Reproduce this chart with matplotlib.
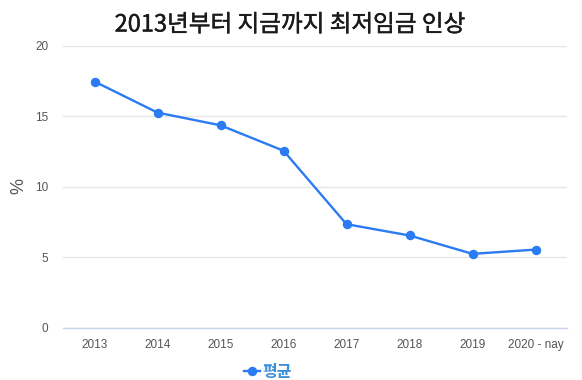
import matplotlib
matplotlib.use("Agg")
import matplotlib.pyplot as plt
import matplotlib.patheffects as pe
from matplotlib.lines import Line2D

categories = ["2013", "2014", "2015", "2016", "2017", "2018", "2019", "2020 - nay"]
values = [17.45, 15.25, 14.35, 12.55, 7.35, 6.55, 5.25, 5.55]
yticks = [0, 5, 10, 15, 20]
title = "2013년부터 지금까지 최저임금 인상"
series_name = "평균"
ylabel = "%"

plt.rcParams['font.family'] = ['Liberation Sans', 'Noto Sans CJK KR', 'DejaVu Sans']

fig = plt.figure(figsize=(5.82, 3.80), dpi=100)
ax = fig.add_axes([63/582, 1-328/380, (567-63)/582, (328-45.5)/380])

color = '#2b7bf3'
x = list(range(len(categories)))
ax.plot(x, values, color=color, lw=1.7, marker='o', ms=5.8, zorder=3)

ax.set_xlim(-0.5, len(categories) - 0.5)
ax.set_ylim(0, 20)
ax.set_yticks(yticks)
ax.set_yticklabels([str(t) for t in yticks])
ax.set_xticks(x)
ax.set_xticklabels(categories)
ax.grid(axis='y', color='#e6e6e6', lw=1)
ax.set_axisbelow(True)
for s in ['top', 'right', 'left']:
    ax.spines[s].set_visible(False)
ax.spines['bottom'].set_color('#ccd6eb')
ax.spines['bottom'].set_linewidth(1)
ax.tick_params(axis='both', length=0, labelsize=8.5, labelcolor='#555555')
ax.tick_params(axis='y', pad=10.5)
ax.tick_params(axis='x', pad=8)

fig.text(19/582, 1-186/380, ylabel, rotation=90, ha='center', va='center',
         fontsize=13, color='#555555')

fig.text(290/582, 1-25/380, title, ha='center', va='center', fontsize=17,
         family=['Noto Sans CJK KR', 'DejaVu Sans'], weight='normal', color='#1a1a1a',
         path_effects=[pe.withStroke(linewidth=0.3, foreground='#1a1a1a')])

# legend
handle = Line2D([0], [0], color=color, lw=1.7, marker='o', ms=5.8)
leg = fig.legend([handle], [series_name], loc='center', bbox_to_anchor=(268/582, 1-372/380),
                 frameon=False, handlelength=1.0, handletextpad=0.1,
                 prop={'family': ['Noto Sans CJK KR', 'DejaVu Sans'], 'size': 11.5, 'weight': 'bold'})
for t in leg.get_texts():
    t.set_color('#3a8fd9')

fig.savefig("out.png", dpi=100)
